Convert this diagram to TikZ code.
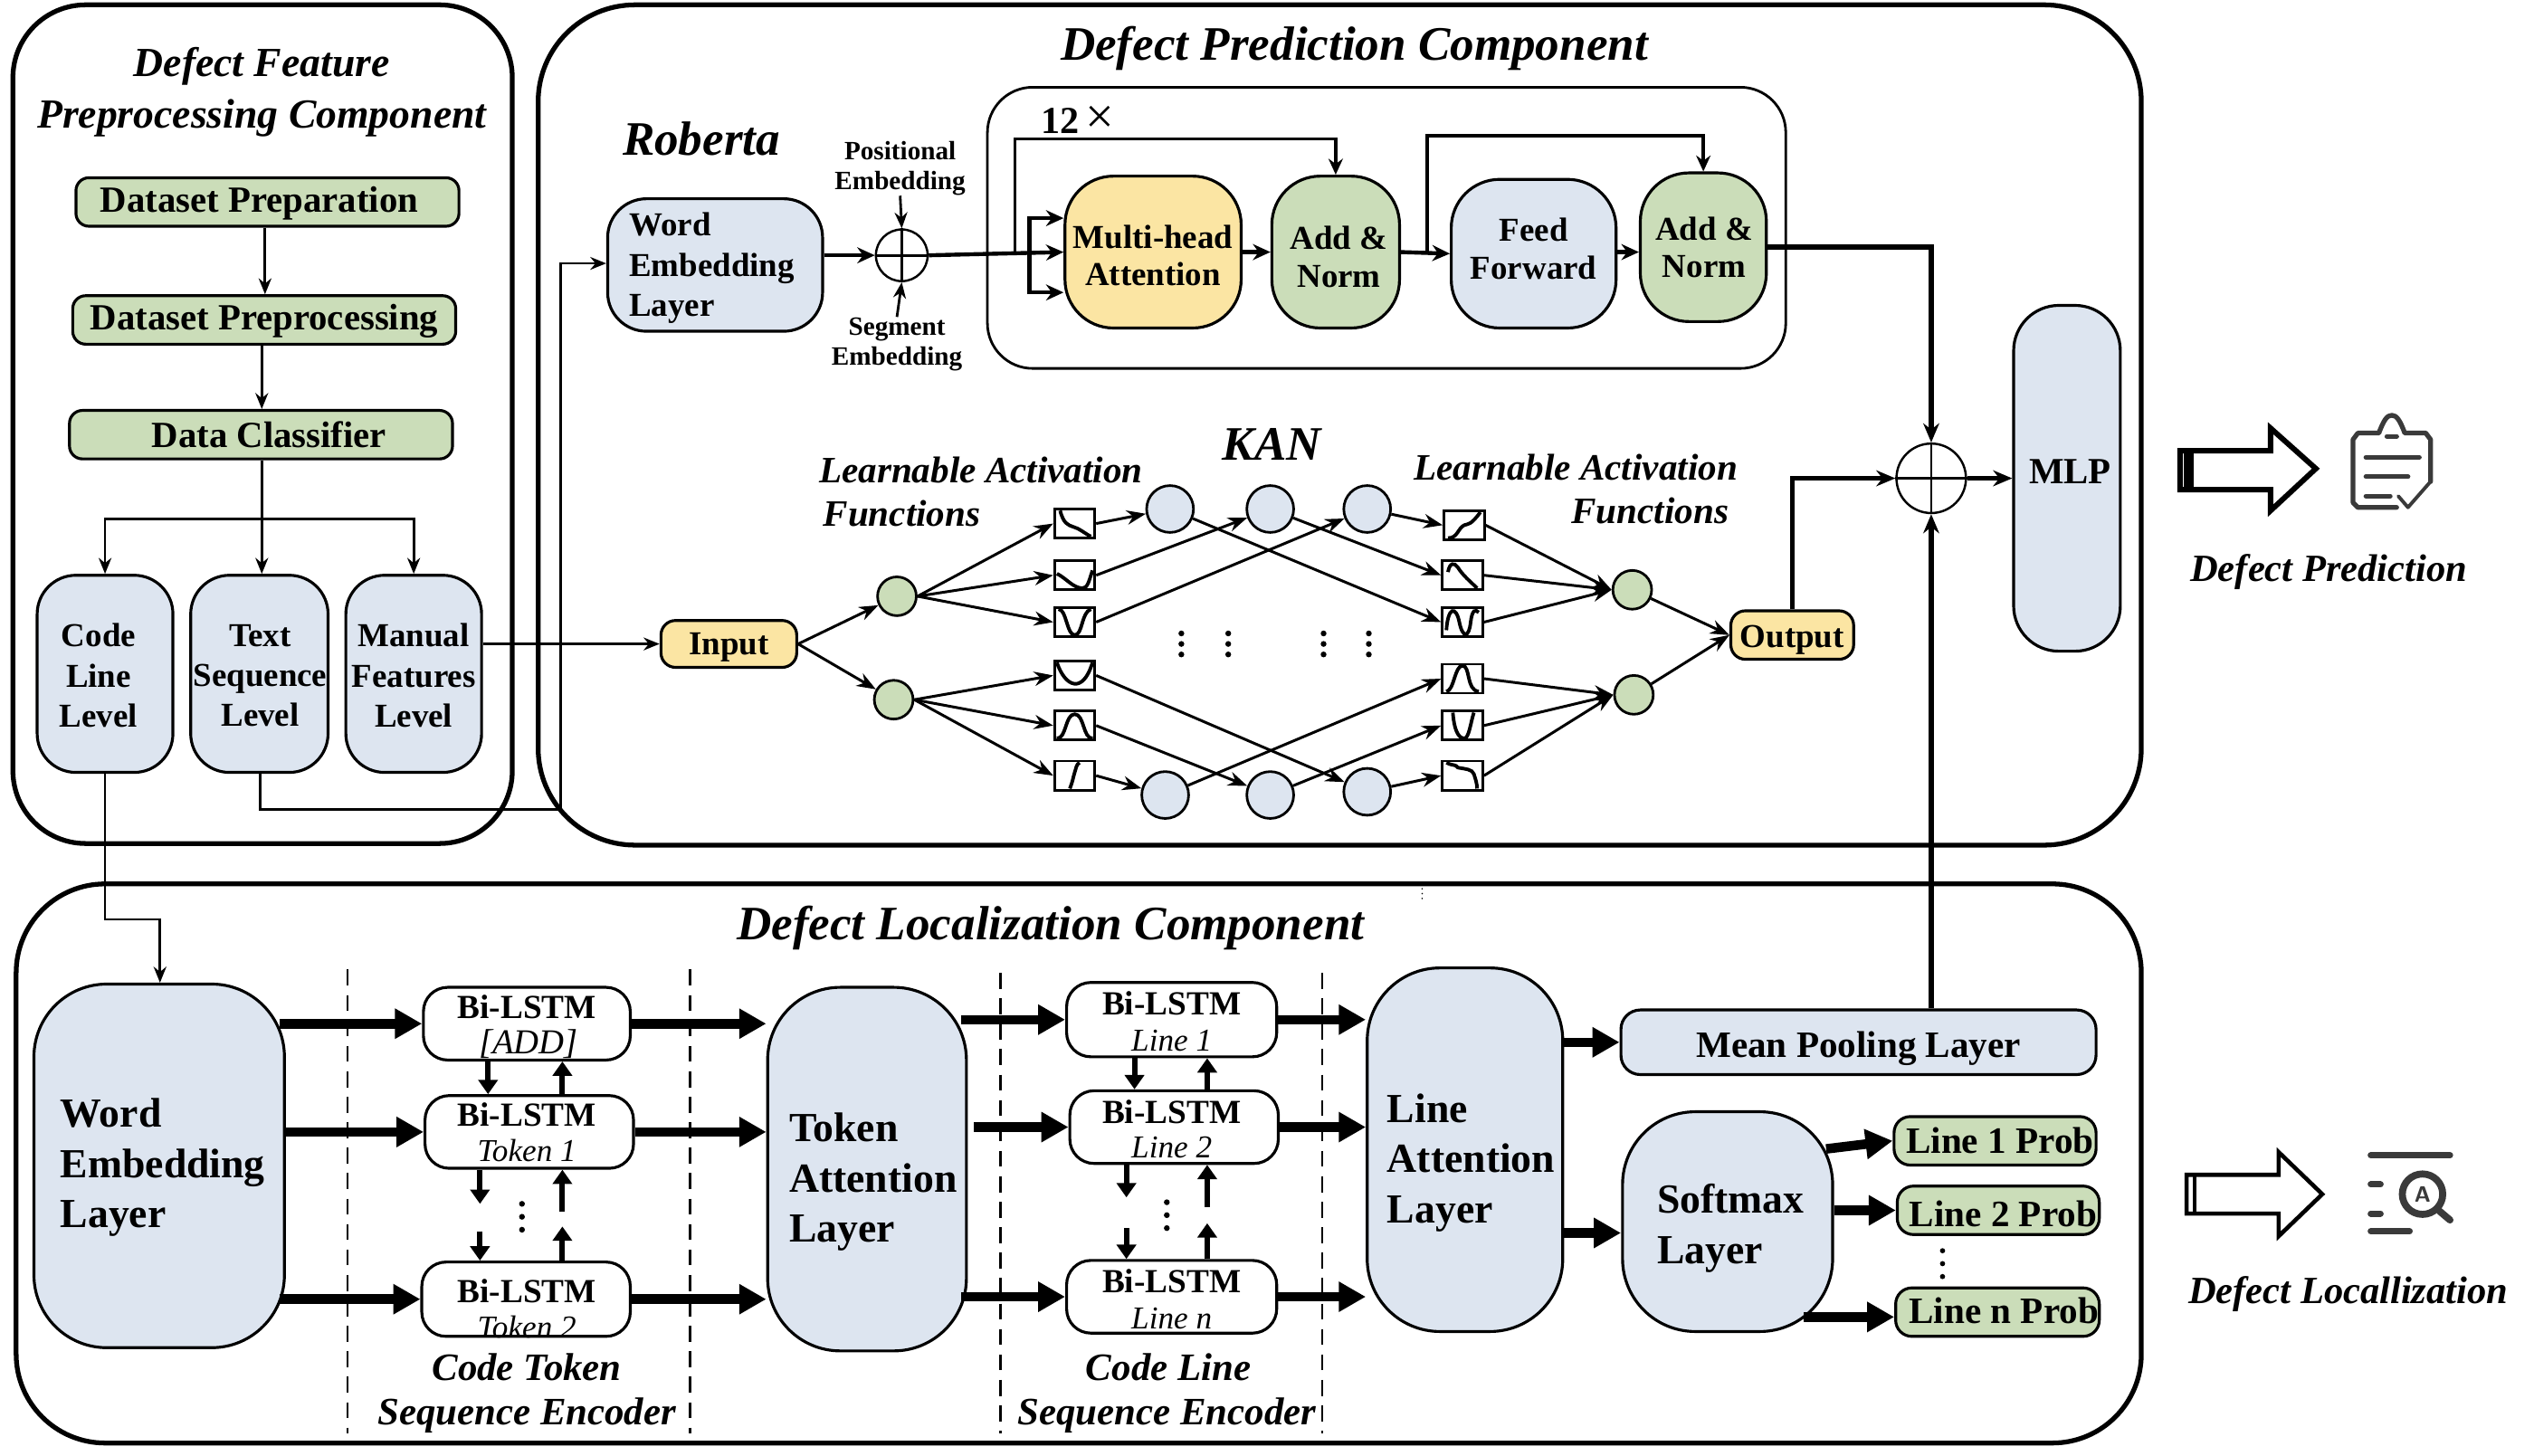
\documentclass[tikz,border=0pt]{standalone}
\usepackage{fontspec}
\setmainfont{Liberation Serif}
\usetikzlibrary{arrows.meta,calc}
\definecolor{cblue}{HTML}{DDE5F0}
\definecolor{cgreen}{HTML}{CBDDB9}
\definecolor{cyellow}{HTML}{FBE5A3}
\definecolor{cicon}{HTML}{3A3A3A}
\def\uu{0.017857cm}
\newcommand{\fs}[2]{\fontsize{#1}{#2}\selectfont}
\newcommand{\bx}[7][]{%
  \pgfmathsetmacro\cxx{(#3+#5)/2}\pgfmathsetmacro\cyy{(#4+#6)/2}%
  \pgfmathsetmacro\www{#5-#3}\pgfmathsetmacro\hhh{#6-#4}%
  \node[box,minimum width=\www*\uu,minimum height=\hhh*\uu,#1] (#2) at (\cxx,\cyy) {#7};}
\tikzset{
  box/.style={draw,line width=0.9pt,inner sep=0pt,align=center,font=\bfseries\fs{10.5}{12.6}},
  tc/.style={inner sep=0pt,align=center,font=\bfseries\fs{10.5}{12.6}},
  tt/.style={inner sep=0pt,align=center,font=\bfseries\fs{10.5}{11.8}},
  tg/.style={inner sep=0pt,align=center,font=\bfseries\fs{11.6}{13}},
  tl/.style={inner sep=0pt,align=left,anchor=west,font=\bfseries\fs{10.5}{12.6}},
  bigt/.style={inner sep=0pt,align=left,anchor=west,font=\bfseries\fs{13}{15.8}},
  rr/.style={rounded corners=#1*\uu},
  fblue/.style={fill=cblue},
  fgreen/.style={fill=cgreen},
  fyellow/.style={fill=cyellow},
  cont/.style={draw,line width=1.5pt},
  thin arr/.style={line width=0.8pt,-{Stealth[length=5pt,width=4pt]}},
  thin line/.style={line width=0.8pt},
  med/.style={line width=1.1pt,-{Stealth[length=5pt,width=4.5pt]}},
  mid arr/.style={line width=1.25pt,-{Stealth[length=5.5pt,width=5pt]}},
  bold arr/.style={line width=1.6pt,-{Stealth[length=6pt,width=5pt]}},
  fat/.style={line width=3pt,-{Triangle[length=8.5pt,width=9pt]}},
  vert/.style={line width=1.7pt,-{Triangle[length=4.5pt,width=6pt]}},
  ka/.style={line width=0.85pt,-{Stealth[length=6pt,width=4.5pt]}},
  cv/.style={line width=1.1pt},
  tb/.style={font=\bfseries\itshape\fs{15.1}{18}},
  ti/.style={font=\bfseries\itshape\fs{13}{16}, align=center},
  capt/.style={font=\bfseries\itshape\fs{12.2}{14}},
  subt/.style={font=\itshape\fs{10}{12},inner sep=0pt},
  bl/.style={font=\bfseries\fs{10.6}{12},inner sep=0pt},
  sm/.style={font=\bfseries\fs{8.3}{9.4},align=center,inner sep=0pt},
  lr/.style={font=\bfseries\itshape\fs{11.7}{14}},
  pl/.style={draw,circle,fill=white,line width=0.7pt,inner sep=0pt},
  cg/.style={draw,circle,fill=cgreen,line width=0.8pt,inner sep=0pt,minimum size=24*\uu},
  cb/.style={draw,circle,fill=cblue,line width=0.8pt,inner sep=0pt,minimum size=29*\uu},
  fnbox/.style={draw,fill=white,line width=0.8pt,inner sep=0pt,minimum width=25*\uu,minimum height=18*\uu},
  dash sep/.style={line width=0.7pt,dash pattern=on 5pt off 3pt},
  dotm/.style={fill=black,circle,inner sep=0pt,minimum size=#1*\uu},
  hollow/.style={draw,fill=white,line width=1.7pt,miter limit=10},
  ic/.style={draw=cicon,line width=1.5pt,line cap=round,line join=round},
}
\begin{document}
\begin{tikzpicture}[x=0.017857cm,y=-0.017857cm]
\fill[white] (0,0) rectangle (1568,901);
\useasboundingbox (0,0) rectangle (1568,901);

% containers
\bx[cont,rr=45]{c1}{8}{3}{317}{522}{}
\bx[cont,rr=60]{c2}{333}{3}{1325}{523}{}
\bx[cont,rr=55]{c3}{10}{547}{1325}{893}{}

% titles
\node[ti] (t1) at (162,57) {Defect Feature\\[0pt]Preprocessing Component};
\node[tb] (t2) at (838,30) {Defect Prediction Component};
\node[tb] (t3) at (650,574) {Defect Localization Component};
\node[tb] (rob) at (434,86) {Roberta};
\node[tb] (kan) at (787,275) {KAN};

% preprocessing
\bx[fgreen,rr=8]{dp}{47}{110}{284}{140}{}
\bx[fgreen,rr=8]{dpp}{45}{183}{282}{213}{}
\bx[fgreen,rr=8]{dc}{43}{254}{280}{284}{}
\node[tg] (dpt) at (160.5,126) {Dataset Preparation};
\node[tg] (dppt) at (163.5,199) {Dataset Preprocessing};
\node[tg] (dct) at (166.5,269) {Data Classifier};
\bx[fblue,rr=24]{cll}{23}{356}{107}{478}{}
\bx[fblue,rr=24]{tsl}{118}{356}{203}{478}{}
\bx[fblue,rr=24]{mfl}{214}{356}{298}{478}{}
\node[tc] (cllt) at (61,418) {Code\\Line\\Level};
\node[tc] (tslt) at (161,418) {Text\\Sequence\\Level};
\node[tc] (mflt) at (256,418) {Manual\\Features\\Level};
\draw[thin arr] (dp.south -| 164,0) -- (dpp.north -| 164,0);
\draw[thin arr] (dpp.south -| 162,0) -- (dc.north -| 162,0);
\draw[thin arr] (dc.south -| 162,0) -- (tsl.north -| 162,0);
\coordinate (brc) at (162,321);
\draw[thin arr] (brc) -| (cll.north -| 65,0);
\draw[thin arr] (brc) -| (mfl.north);

% Roberta
\bx[fblue,rr=24]{wel}{376}{123}{509}{205}{}
\node[tl] (welt) at (389,166) {Word\\Embedding\\Layer};
\node[pl,minimum size=32*\uu] (p1) at (558,158) {};
\draw[thin line] (p1.north) -- (p1.south) (p1.west) -- (p1.east);
\node[sm] (pe) at (557,104) {Positional\\Embedding};
\node[sm] (se) at (555,213) {Segment\\Embedding};
\bx[line width=0.8pt,rr=28]{rep}{611}{54}{1105}{228}{}
\node[font=\bfseries\fs{12}{13},inner sep=0pt] (tw) at (667,74) {12\,\textmd{\fs{16}{16}×}};
\bx[fyellow,rr=30]{mha}{659}{109}{768}{203}{}
\bx[fgreen,rr=30]{an1}{787}{109}{866}{203}{}
\bx[fblue,rr=30]{ff}{898}{111}{1000}{203}{}
\bx[fgreen,rr=30]{an2}{1015}{107}{1093}{199}{}
\node[tt] (mhat) at (713.5,158) {Multi-head\\Attention};
\node[tt] (an1t) at (828.5,159) {Add \&\\Norm};
\node[tt] (fft) at (949,154) {Feed\\Forward};
\node[tt] (an2t) at (1054.5,153) {Add \&\\Norm};
\draw[thin arr] (pe.south) -- (p1.north);
\draw[thin arr] (se.north) -- (p1.south);
\draw[mid arr] (wel.east |- p1) -- (p1.west);
\draw[mid arr] (p1.east) -- (mha.west);
\coordinate (ba) at (637,135);
\coordinate (bb) at (637,181);
\draw[mid arr] (637,158) -- (ba) -- (mha.west |- ba);
\draw[mid arr] (637,158) -- (bb) -- (mha.west |- bb);
\coordinate (res1) at (628,86);
\draw[med] (628,158) -- (res1) -- (res1 -| an1.north) -- (an1.north);
\draw[mid arr] (mha.east) -- (an1.west);
\draw[mid arr] (an1.east) -- (ff.west);
\coordinate (res2) at (883,84);
\draw[med] (883,156) -- (res2) -- (res2 -| an2.north) -- (an2.north);
\draw[mid arr] (ff.east |- 0,156) -- (an2.west |- 0,156);

% KAN
\node[lr] (la1) at (607,291) {Learnable Activation};
\node[lr,anchor=west,inner sep=0pt] (la2) at (509,318) {Functions};
\node[lr] (ra1) at (975,289) {Learnable Activation};
\node[lr,anchor=east,inner sep=0pt] (ra2) at (1070,316) {Functions};
\bx[fyellow,rr=9]{inp}{409}{384}{493}{413}{}
\bx[fyellow,rr=9]{outp}{1071}{378}{1147}{408}{}
\node[tc] (inpt) at (451,400.5) {Input};
\node[tc] (outpt) at (1109,396) {Output};
\node[cg] (g1) at (555,369) {};
\node[cg] (g2) at (553,433) {};
\node[cg] (g3) at (1010,365) {};
\node[cg] (g4) at (1011,430) {};
\node[cb] (u1) at (724,315) {};
\node[cb] (u2) at (786,315) {};
\node[cb] (u3) at (846,315) {};
\node[cb] (d1) at (721,492) {};
\node[cb] (d2) at (786,492) {};
\node[cb] (d3) at (846,490) {};
\node[fnbox] (l1) at (665,324) {};
\node[fnbox] (l2) at (665,356) {};
\node[fnbox] (l3) at (665,385) {};
\node[fnbox] (l4) at (665,418) {};
\node[fnbox] (l5) at (665,449) {};
\node[fnbox] (l6) at (665,480) {};
\node[fnbox] (r1) at (906,325) {};
\node[fnbox] (r2) at (905,356) {};
\node[fnbox] (r3) at (905,385) {};
\node[fnbox] (r4) at (905,420) {};
\node[fnbox] (r5) at (905,449) {};
\node[fnbox] (r6) at (905,480) {};
\draw[cv,shift={(l1)}] (-9,-8) .. controls (-7,0) and (-4,1) .. (-1,2) .. controls (3,3) and (6,6) .. (10,8);
\draw[cv,shift={(l2)}] (-11,-1) .. controls (-5,2) and (-1,8) .. (5,8) .. controls (8,8) and (9,3) .. (11,-3);
\draw[cv,shift={(l3)}] (-10,-8) .. controls (-5,-8) and (-5,8) .. (0,8) .. controls (5,8) and (4,-6) .. (10,-8);
\draw[cv,shift={(l4)}] (-11,-8) .. controls (-6,7) and (5,12) .. (11,-8);
\draw[cv,shift={(l5)}] (-11,8) .. controls (-5,8) and (-6,-7) .. (0,-7) .. controls (6,-7) and (5,8) .. (11,8);
\draw[cv,shift={(l6)}] (-3,8) .. controls (-1,3) and (-1,1) .. (0,-2) .. controls (1,-5) and (1,-7) .. (3,-8);
\draw[cv,shift={(r1)}] (-10,8) .. controls (-4,8) and (-4,2) .. (0,0) .. controls (3,-1) and (4,0) .. (10,-8);
\draw[cv,shift={(r2)}] (-9,-2) .. controls (-8,-8) and (-5,-8) .. (-3,-5) .. controls (0,0) and (5,4) .. (9,8);
\draw[cv,shift={(r3)}] (-10,5) .. controls (-9,-10) and (-4,-10) .. (-2,0) .. controls (0,10) and (4,10) .. (5,0) .. controls (6,-8) and (8,-8) .. (10,-6);
\draw[cv,shift={(r4)}] (-10,8) .. controls (-5,7) and (-5,-8) .. (0,-8) .. controls (5,-8) and (2,7) .. (10,8);
\draw[cv,shift={(r5)}] (-6,-8) .. controls (-5,6) and (-1,8) .. (1,8) .. controls (4,8) and (5,-2) .. (7,-8);
\draw[cv,shift={(r6)}] (-10,-8) .. controls (-6,-6) and (-4,-7) .. (-3,-5) .. controls (2,-4) and (6,-4) .. (7,-1) .. controls (8,2) and (9,5) .. (9,8);
\draw[ka] (inp.east) -- (g1);
\draw[ka] (inp.east) -- (g2);
\foreach \a/\b in {g1/l1,g1/l2,g1/l3,g2/l4,g2/l5,g2/l6}
  \draw[ka] (\a.east) -- (\b.west);
\foreach \a/\b in {l1/u1,l2/u2,l3/u3,l4/d3,l5/d2,l6/d1}
  \draw[ka] (\a.east) -- (\b);
\foreach \a/\b in {u1/r3,u2/r2,u3/r1,d1/r4,d2/r5,d3/r6}
  \draw[ka] (\a) -- (\b.west);
\foreach \a/\b in {r1/g3,r2/g3,r3/g3,r4/g4,r5/g4,r6/g4}
  \draw[ka] (\a.east) -- (\b.west);
\draw[ka] (g3) -- (outp.west);
\draw[ka] (g4) -- (outp.west);
\foreach \x in {731,760,819,847}
  \foreach \y in {392,398.5,405}
    \node[dotm=3.6] at (\x,\y) {};

% sum, MLP
\node[pl,minimum size=43*\uu] (p2) at (1195,296) {};
\draw[thin line] (p2.north) -- (p2.south) (p2.west) -- (p2.east);
\bx[fblue,rr=28]{mlp}{1246}{189}{1312}{403}{}
\bx[fblue,rr=12]{mpl}{1003}{625}{1297}{665}{}
\node[tg] (mlpt) at (1281,292) {MLP};
\node[tc,font=\bfseries\fs{11.7}{14}] (mplt) at (1150,649) {Mean Pooling Layer};
\coordinate (k1) at (1195,153);
\draw[bold arr] (an2.east |- k1) -- (k1) -- (p2.north);
\coordinate (k2) at (1109,296);
\draw[bold arr] (outp.north) -- (k2) -- (p2.west);
\draw[bold arr] (p2.east) -- (mlp.west |- p2);
\draw[bold arr] (mpl.north -| p2) -- (p2.south);

% inter connects
\draw[thin arr] (mfl.east |- inp) -- (inp.west);
\coordinate (k3) at (161,501);
\coordinate (k4) at (347,501);
\coordinate (k5) at (347,163);
\draw[thin arr] (tsl.south -| k3) -- (k3) -- (k4) -- (k5) -- (wel.west |- k5);
\coordinate (k6) at (65,569);
\coordinate (k7) at (99,569);

% localization
\bx[fblue,rr=45]{wl}{21}{609}{176}{834}{}
\bx[fblue,rr=45]{tal}{475}{611}{598}{836}{}
\bx[fblue,rr=45]{lal}{846}{599}{967}{824}{}
\bx[fblue,rr=45]{sl}{1004}{688}{1134}{824}{}
\node[bigt] (wlt) at (37,722.5) {Word\\Embedding\\Layer};
\node[bigt] (talt) at (488,731.5) {Token\\Attention\\Layer};
\node[bigt] (lalt) at (858,719.5) {Line\\Attention\\Layer};
\node[bigt] (slt) at (1025,760) {Softmax\\Layer};
\draw[thin arr] (cll.south -| k6) -- (k6) -- (k7) -- (wl.north -| k7);

\bx[rr=15]{a1}{262}{611}{390}{656}{}
\bx[rr=15]{a2}{263}{678}{392}{723}{}
\bx[rr=15]{a3}{261}{781}{390}{827}{}
\bx[rr=15]{b1}{660}{608}{790}{654}{}
\bx[rr=15]{b2}{662}{675}{791}{720}{}
\bx[rr=15]{b3}{660}{780}{790}{825}{}
\node[bl] (a1t) at (326,623) {Bi-LSTM};
\node[subt,font=\itshape\fs{11}{12}] (a1s) at (327,646) {[ADD]};
\node[bl] (a2t) at (326,690) {Bi-LSTM};
\node[subt] (a2s) at (326,712) {Token 1};
\node[bl] (a3t) at (326,799) {Bi-LSTM};
\node[subt] (a3s) at (326,821) {Token 2};
\node[bl] (b1t) at (725,621) {Bi-LSTM};
\node[subt] (b1s) at (725,644) {Line 1};
\node[bl] (b2t) at (725,688) {Bi-LSTM};
\node[subt] (b2s) at (725,710) {Line 2};
\node[bl] (b3t) at (725,793) {Bi-LSTM};
\node[subt] (b3s) at (725,816) {Line n};

\bx[fgreen,rr=10]{p1b}{1172}{691}{1297}{721}{}
\bx[fgreen,rr=10]{p2b}{1174}{734}{1299}{764}{}
\bx[fgreen,rr=10]{pnb}{1173}{797}{1299}{827}{}
\node[tg,font=\bfseries\fs{11.7}{13}] (p1t) at (1237.5,706) {Line 1 Prob};
\node[tg,font=\bfseries\fs{11.7}{13}] (p2t) at (1239.5,751) {Line 2 Prob};
\node[tg,font=\bfseries\fs{11.7}{13}] (pnt) at (1240,811) {Line n Prob};

\draw[fat] ([xshift=-2pt]wl.east |- a1.west) -- (a1.west);
\draw[fat] (wl.east |- a2.west) -- (a2.west);
\draw[fat] ([xshift=-2pt]wl.east |- a3.west) -- (a3.west);
\draw[fat] (a1.east) -- (tal.west |- a1.east);
\draw[fat] (a2.east) -- (tal.west |- a2.east);
\draw[fat] (a3.east) -- (tal.west |- a3.east);
\draw[fat] ([xshift=-2pt]tal.east |- b1.west) -- (b1.west);
\draw[fat] ([xshift=2pt]tal.east |- b2.west) -- (b2.west);
\draw[fat] ([xshift=-2pt]tal.east |- b3.west) -- (b3.west);
\draw[fat] (b1.east) -- (lal.west |- b1.east);
\draw[fat] (b2.east) -- (lal.west |- b2.east);
\draw[fat] (b3.east) -- (lal.west |- b3.east);
\draw[fat] (lal.east |- mpl.west) -- (mpl.west);
\coordinate (k8) at (1003,763);
\draw[fat] (lal.east |- k8) -- (k8);
\coordinate (k10) at (1130,711);
\draw[fat] (k10) -- (p1b.west);
\draw[fat] (sl.east |- p2b.west) -- (p2b.west);
\coordinate (k9) at (1116,815);
\draw[fat] (k9) -- (k9 -| pnb.west);

% vertical small arrows
\coordinate (v1) at (297,745);
\coordinate (v2) at (348,750);
\coordinate (v3) at (297,762);
\coordinate (v4) at (348,759);
\draw[vert] (a1.south -| 302,0) -- (a2.north -| 302,0);
\draw[vert] (a2.north -| 348,0) -- (a1.south -| 348,0);
\draw[vert] (a2.south -| v1) -- (v1);
\draw[vert] (v2) -- (a2.south -| v2);
\draw[vert] (v3) -- (a3.north -| v3);
\draw[vert] (a3.north -| v4) -- (v4);
\coordinate (w1) at (697,741);
\coordinate (w2) at (747,747);
\coordinate (w3) at (697,760);
\coordinate (w4) at (747,757);
\draw[vert] (b1.south -| 702,0) -- (b2.north -| 702,0);
\draw[vert] (b2.north -| 747,0) -- (b1.south -| 747,0);
\draw[vert] (b2.south -| w1) -- (w1);
\draw[vert] (w2) -- (b2.south -| w2);
\draw[vert] (w3) -- (b3.north -| w3);
\draw[vert] (b3.north -| w4) -- (w4);
\foreach \y in {745,753,761} \node[dotm=3.6] at (323,\y) {};
\foreach \y in {744,752,760} \node[dotm=3.6] at (722,\y) {};
\foreach \y in {774,782,790} \node[dotm=3.2] at (1202,\y) {};
\foreach \y in {550,553,556} \node[dotm=1] at (880,\y) {};

% dashed separators
\draw[dash sep] (215,600) -- (215,887);
\draw[dash sep] (427,600) -- (427,887);
\draw[dash sep] (619,602) -- (619,887);
\draw[dash sep] (818,602) -- (818,887);

\node[capt] (ca1) at (326,846) {Code Token};
\node[capt] (ca2) at (326,876) {Sequence Encoder};
\node[capt] (cb1) at (723,846) {Code Line};
\node[capt] (cb2) at (722,876) {Sequence Encoder};

% outputs
\draw[hollow] (1349,279) -- (1405,279) -- (1405,265) -- (1433,290) -- (1405,316) -- (1405,303) -- (1349,303) -- cycle;
\draw[line width=1.7pt] (1353,279) -- (1353,303);
\draw[line width=1.7pt] (1356,279) -- (1356,303);
\node[font=\bfseries\itshape\fs{12.1}{14}] (op1) at (1441,354) {Defect Prediction};
\draw[ic] (1504,298) -- (1504,272) -- (1501,268) -- (1488,268) .. controls (1485,260) and (1483,257) .. (1480,257) .. controls (1477,257) and (1475,260) .. (1472,268) -- (1459,268) -- (1456,272) -- (1456,311) -- (1459,314) -- (1483,314);
\draw[ic] (1477,270) -- (1483,270);
\draw[ic] (1464,283) -- (1497,283);
\draw[ic] (1464,295) -- (1490,295);
\draw[ic] (1464,307) -- (1479,307);
\draw[ic,line width=1.1pt] (1484,307) -- (1490,314) -- (1504,298);

\draw[hollow,line width=1.3pt] (1353,727) -- (1410,727) -- (1410,713) -- (1437,739) -- (1410,765) -- (1410,751) -- (1353,751) -- cycle;
\draw[line width=1.3pt] (1358,727) -- (1358,751);
\node[font=\bfseries\itshape\fs{12.1}{14}] (op2) at (1453,801) {Defect Locallization};
\draw[ic,line width=2pt] (1467,715) -- (1516,715);
\draw[ic,line width=2pt] (1467,733) -- (1473,733);
\draw[ic,line width=2pt] (1467,751) -- (1473,751);
\draw[ic,line width=2pt] (1467,762) -- (1491,762);
\node[draw=cicon,circle,line width=2.2pt,minimum size=25*\uu,inner sep=0pt,text=cicon,font=\sffamily\bfseries\fs{7}{8}] (mag) at (1499,739) {A};
\draw[ic,line width=2.2pt] (mag.-45) -- (1516,755);
\end{tikzpicture}
\end{document}
